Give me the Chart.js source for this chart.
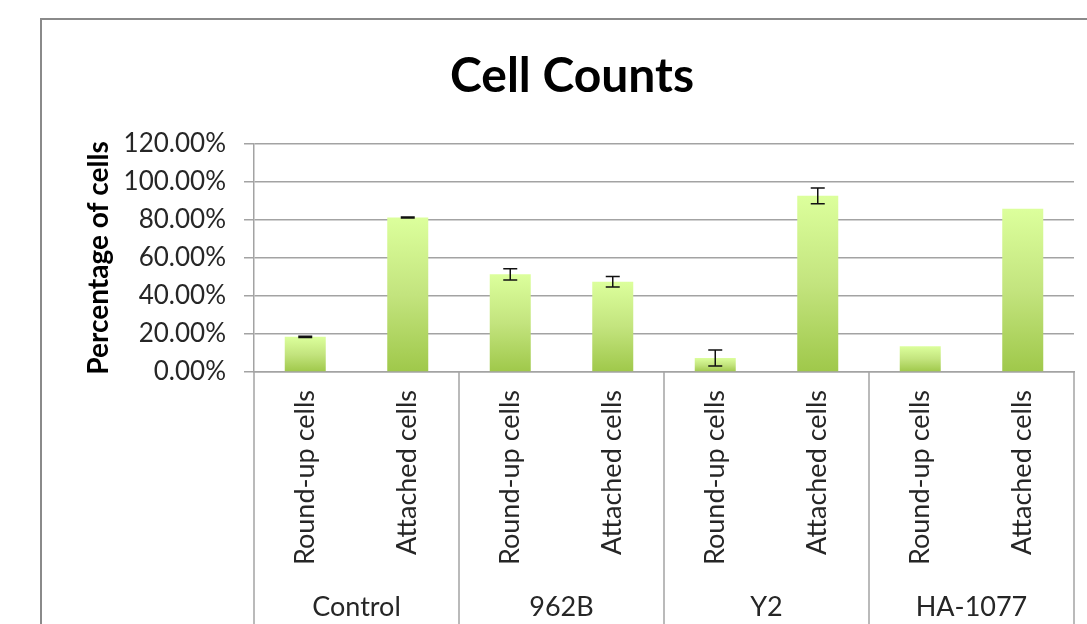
<!DOCTYPE html>
<html>
<head>
<meta charset="utf-8">
<script src="https://cdn.jsdelivr.net/npm/chart.js@4/dist/chart.umd.min.js"></script>
<style>
    html, body { margin: 0; padding: 0; background: #fff; overflow: hidden; }
    #frame {
        position: absolute; left: 40px; top: 18px;
        width: 1100px; height: 700px;
        border: 2px solid #8a8a8a; overflow: hidden; background: #fff;
    }
    #cellChart { display: block; }
</style>
</head>
<body>
<div id="frame">
    <canvas id="cellChart" width="1060" height="640"></canvas>
</div>
<script>
// 차트 데이터
var categories = ['Round-up cells', 'Attached cells', 'Round-up cells', 'Attached cells',
                  'Round-up cells', 'Attached cells', 'Round-up cells', 'Attached cells'];
var groups = ['Control', '962B', 'Y2', 'HA-1077'];
var values = [18.5, 81.3, 51.4, 47.5, 7.4, 92.7, 13.6, 85.9];   // 퍼센트
var errors = [0.3, 0.3, 3.0, 2.7, 4.2, 4.2, 0, 0];
var yTicks = [0, 20, 40, 60, 80, 100, 120];

var FONT = 'Lato, "Open Sans", sans-serif';
var gridColor = '#a3a3a3';
var textColor = '#262626';

// 막대마다 위(연한 색) -> 아래(진한 색) 그라데이션
function barGradient(context) {
    var chart = context.chart;
    if (!chart.chartArea || context.dataIndex === undefined) return '#c4e27a';
    var y = chart.scales.y;
    var top = y.getPixelForValue(values[context.dataIndex]);
    var bottom = y.getPixelForValue(0);
    if (!isFinite(top) || bottom - top < 1) return '#c4e27a';
    var g = chart.ctx.createLinearGradient(0, top, 0, bottom);
    g.addColorStop(0, '#dcff9c');
    g.addColorStop(0.5, '#c3e47e');
    g.addColorStop(1, '#9fc84a');
    return g;
}

// 오차 막대
var errorBarPlugin = {
    id: 'errorBars',
    afterDatasetsDraw: function(chart) {
        var ctx = chart.ctx, x = chart.scales.x, y = chart.scales.y;
        ctx.save();
        ctx.strokeStyle = '#111';
        ctx.lineWidth = 1.5;
        values.forEach(function(v, i) {
            if (!errors[i]) return;
            var px = x.getPixelForValue(i);
            var hi = y.getPixelForValue(v + errors[i]);
            var lo = y.getPixelForValue(v - errors[i]);
            ctx.beginPath();
            ctx.moveTo(px, hi); ctx.lineTo(px, lo);
            ctx.moveTo(px - 7, hi); ctx.lineTo(px + 7, hi);
            ctx.moveTo(px - 7, lo); ctx.lineTo(px + 7, lo);
            ctx.stroke();
        });
        ctx.restore();
    }
};

// 그룹 구분선, 그룹 라벨, 제목
var groupAxisPlugin = {
    id: 'groupAxis',
    afterDraw: function(chart) {
        var ctx = chart.ctx, x = chart.scales.x, area = chart.chartArea;
        ctx.save();
        ctx.strokeStyle = gridColor;
        ctx.lineWidth = 1.5;
        var bounds = [area.left];
        for (var k = 1; k < groups.length; k++) {
            bounds.push((x.getPixelForValue(2 * k - 1) + x.getPixelForValue(2 * k)) / 2);
        }
        bounds.push(area.right);
        bounds.forEach(function(bx) {
            ctx.beginPath();
            ctx.moveTo(bx, area.bottom);
            ctx.lineTo(bx, chart.height);
            ctx.stroke();
        });
        ctx.fillStyle = textColor;
        ctx.font = '27px ' + FONT;
        ctx.textAlign = 'center';
        ctx.textBaseline = 'middle';
        groups.forEach(function(name, k) {
            var cx = (x.getPixelForValue(2 * k) + x.getPixelForValue(2 * k + 1)) / 2;
            ctx.fillText(name, cx, 587);
        });
        ctx.fillStyle = '#000';
        ctx.font = 'bold 48px ' + FONT;
        ctx.fillText('Cell Counts', 530, 57);
        ctx.restore();
    }
};

var ctx = document.getElementById('cellChart').getContext('2d');
var cellChart = new Chart(ctx, {
    type: 'bar',
    data: {
        labels: categories,
        datasets: [{
            data: values,
            backgroundColor: barGradient,
            borderWidth: 0,
            barPercentage: 0.4,
            categoryPercentage: 1.0
        }]
    },
    options: {
        responsive: false,
        animation: false,
        layout: { padding: { left: 0, top: 124, right: 28, bottom: 0 } },
        plugins: {
            legend: { display: false },
            tooltip: { enabled: false },
            title: { display: false }
        },
        scales: {
            x: {
                type: 'category',
                afterFit: function(scale) { scale.height = 288; },
                grid: { display: true, drawOnChartArea: false, drawTicks: false },
                border: { display: true, color: gridColor, width: 1.5 },
                ticks: {
                    autoSkip: false,
                    minRotation: 90,
                    maxRotation: 90,
                    padding: 18,
                    color: textColor,
                    font: { family: FONT, size: 27 }
                }
            },
            y: {
                min: 0,
                max: 120,
                afterFit: function(scale) { scale.width = 212; },
                afterBuildTicks: function(scale) {
                    scale.ticks = yTicks.map(function(v) { return { value: v }; });
                },
                grid: { color: gridColor, lineWidth: 1.5, tickLength: 10, drawTicks: true },
                border: { display: true, color: gridColor, width: 1.5 },
                ticks: {
                    padding: 18,
                    color: textColor,
                    font: { family: FONT, size: 26 },
                    callback: function(v) { return Number(v).toFixed(2) + '%'; }
                },
                title: {
                    display: true,
                    text: 'Percentage of cells',
                    color: '#000',
                    font: { family: FONT, size: 28, weight: 'bold' },
                    padding: { top: 40, bottom: 0 }
                }
            }
        }
    },
    plugins: [errorBarPlugin, groupAxisPlugin]
});
</script>
</body>
</html>
